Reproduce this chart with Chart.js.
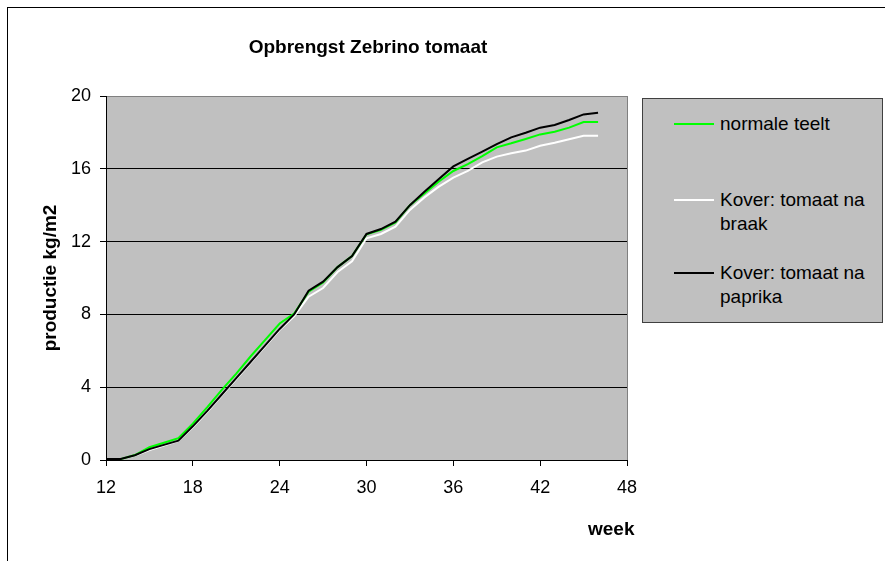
<!DOCTYPE html>
<html>
<head>
<meta charset="utf-8">
<script src="https://cdn.jsdelivr.net/npm/chart.js@4"></script>
<style>
    body { margin: 0; background: #fff; font-family: "Liberation Sans", Arial, sans-serif; }
    #wrap { position: relative; width: 885px; height: 561px; overflow: hidden; }
    #frame { position: absolute; left: 7px; top: 7px; width: 900px; height: 600px;
             border-top: 1px solid #000; border-left: 1px solid #000; }
    canvas { position: absolute; left: 0; top: 0; }
    .txt { position: absolute; font-size: 19px; line-height: 23px; color: #000; white-space: nowrap; }
    #title { left: 168px; width: 400px; top: 35px; text-align: center; font-weight: bold; }
    #xtitle { left: 588px; top: 517px; font-weight: bold; }
    #legend { position: absolute; left: 642px; top: 98px; width: 239px; height: 223px;
              background: #c0c0c0; border: 1px solid #404040; }
    .item { position: absolute; left: 0; width: 239px; }
    .item .swatch { position: absolute; left: 31px; top: 11px; width: 40px; height: 2px; }
    .item .label { position: absolute; left: 77px; top: 0; width: 155px; font-size: 19px; line-height: 24px; }
</style>
</head>
<body>
<div id="wrap">
    <div id="frame"></div>
    <canvas id="prodChart" width="885" height="561"></canvas>
    <div class="txt" id="title">Opbrengst Zebrino tomaat</div>
    <div class="txt" id="xtitle">week</div>
    <div id="legend"></div>
</div>
<script>
// weeks and cumulative production (kg/m2)
const weeks = [12, 13, 14, 15, 16, 17, 18, 19, 20, 21, 22, 23, 24, 25, 26, 27, 28, 29,
               30, 31, 32, 33, 34, 35, 36, 37, 38, 39, 40, 41, 42, 43, 44, 45, 46];

const normaleTeelt = [0.05, 0.05, 0.27, 0.70, 0.95, 1.20, 2.00, 2.90, 3.85, 4.75, 5.70, 6.60,
                      7.50, 8.05, 9.25, 9.75, 10.60, 11.20, 12.40, 12.65, 13.05, 14.00, 14.65, 15.30,
                      15.88, 16.26, 16.70, 17.18, 17.40, 17.64, 17.89, 18.04, 18.26, 18.57, 18.57];

const koverBraak = [0.05, 0.05, 0.24, 0.55, 0.80, 1.05, 1.80, 2.65, 3.55, 4.45, 5.35, 6.25,
                    7.15, 7.90, 8.97, 9.45, 10.33, 10.92, 12.18, 12.42, 12.82, 13.74, 14.43, 15.02,
                    15.52, 15.88, 16.35, 16.67, 16.85, 17.00, 17.27, 17.43, 17.62, 17.82, 17.82];

const koverPaprika = [0.05, 0.05, 0.26, 0.60, 0.83, 1.06, 1.85, 2.70, 3.60, 4.50, 5.40, 6.30,
                      7.20, 8.00, 9.30, 9.80, 10.60, 11.20, 12.42, 12.69, 13.10, 14.00, 14.74, 15.44,
                      16.13, 16.54, 16.94, 17.36, 17.73, 17.98, 18.26, 18.41, 18.68, 18.99, 19.08];

const seriesNames = ["normale teelt", "Kover: tomaat na braak", "Kover: tomaat na paprika"];
const seriesColors = ["#00ff00", "#ffffff", "#000000"];
const xTicks = [12, 18, 24, 30, 36, 42, 48];
const yTicks = [0, 4, 8, 12, 16, 20];

document.addEventListener("DOMContentLoaded", function () {
    Chart.defaults.font.family = '"Liberation Sans", Arial, sans-serif';
    Chart.defaults.font.size = 18;
    Chart.defaults.color = "#000";

    const toPoints = (vals) => vals.map((v, i) => ({ x: weeks[i], y: v }));
    const seriesData = [normaleTeelt, koverBraak, koverPaprika];
    const drawOrder = [1, 2, 0];

    // grey plot area like the spreadsheet chart
    const plotBg = {
        id: "plotBg",
        beforeDraw(chart) {
            const a = chart.chartArea;
            const c = chart.ctx;
            c.save();
            c.fillStyle = "#c0c0c0";
            c.fillRect(a.left, a.top, a.right - a.left, a.bottom - a.top);
            c.restore();
        }
    };

    const ctx = document.getElementById("prodChart").getContext("2d");
    new Chart(ctx, {
        type: "line",
        data: {
            datasets: seriesNames.map((name, i) => ({
                label: name,
                data: toPoints(seriesData[i]),
                borderColor: seriesColors[i],
                borderWidth: 2,
                pointRadius: 0,
                fill: false,
                tension: 0,
                order: drawOrder[i]
            }))
        },
        options: {
            responsive: false,
            animation: false,
            layout: { padding: { top: 96, right: 258, bottom: 0, left: 0 } },
            plugins: {
                legend: { display: false },
                title: { display: false },
                tooltip: { enabled: false }
            },
            scales: {
                x: {
                    type: "linear",
                    min: 12,
                    max: 48,
                    afterFit: (s) => { s.height = 101; },
                    afterBuildTicks: (s) => { s.ticks = xTicks.map(v => ({ value: v })); },
                    ticks: { padding: 11, maxRotation: 0 },
                    grid: {
                        color: (c) => c.tick && c.tick.value === 48 ? "#808080" : "rgba(0,0,0,0)",
                        tickColor: "#000",
                        tickLength: 6
                    },
                    border: { color: "#000", width: 1 }
                },
                y: {
                    min: 0,
                    max: 20,
                    afterFit: (s) => { s.width = 106; },
                    afterBuildTicks: (s) => { s.ticks = yTicks.map(v => ({ value: v })); },
                    ticks: { padding: 9 },
                    grid: {
                        color: (c) => {
                            if (!c.tick) return "#000";
                            if (c.tick.value === 0) return "rgba(0,0,0,0)";
                            if (c.tick.value === 20) return "#808080";
                            return "#000";
                        },
                        tickColor: "#000",
                        tickLength: 6
                    },
                    border: { color: "#000", width: 1 },
                    title: {
                        display: true,
                        text: "productie kg/m2",
                        font: { weight: "bold", size: 19 },
                        padding: { top: 39, bottom: 0 }
                    }
                }
            }
        },
        plugins: [plotBg]
    });

    // legend box
    const legend = document.getElementById("legend");
    const itemTops = [13, 89, 162];
    seriesNames.forEach((name, i) => {
        const item = document.createElement("div");
        item.className = "item";
        item.style.top = itemTops[i] + "px";
        const sw = document.createElement("div");
        sw.className = "swatch";
        sw.style.background = seriesColors[i];
        const lb = document.createElement("div");
        lb.className = "label";
        lb.style.whiteSpace = "normal";
        lb.textContent = name;
        item.appendChild(sw);
        item.appendChild(lb);
        legend.appendChild(item);
    });
});
</script>
</body>
</html>
